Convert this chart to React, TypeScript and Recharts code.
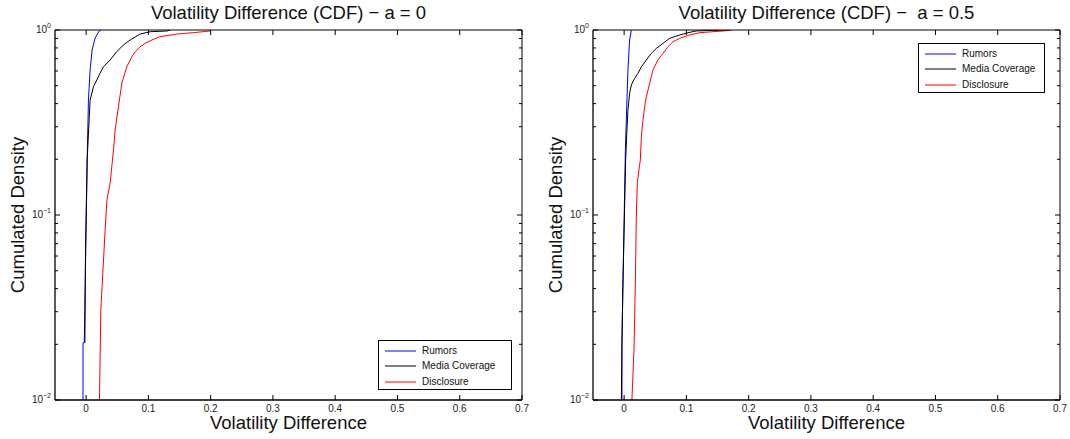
import React from 'react';
import { LineChart, Line, XAxis, YAxis, Legend } from 'recharts';

// ---------- tick values ----------
const xTicks = [0, 0.1, 0.2, 0.3, 0.4, 0.5, 0.6, 0.7];
const yMajorTicks = [0.01, 0.1, 1];
const yMinorTicks = [0.02, 0.03, 0.04, 0.05, 0.06, 0.07, 0.08, 0.09, 0.2, 0.3, 0.4, 0.5, 0.6, 0.7, 0.8, 0.9];

// ---------- series meta ----------
const seriesNames = ['Rumors', 'Media Coverage', 'Disclosure'];
const seriesColors = ['#0000ff', '#000000', '#ff0000'];

// ---------- panel titles ----------
const titles = ['Volatility Difference (CDF) \u2212 a = 0', 'Volatility Difference (CDF) \u2212  a = 0.5'];
const xLabel = 'Volatility Difference';
const yLabel = 'Cumulated Density';

// ---------- a = 0 ----------
const a0RumorsX = [-0.005, -0.005, -0.003, 0.002, 0.0037, 0.0064, 0.0096, 0.0145, 0.021, 0.024];
const a0RumorsY = [0.01, 0.0204, 0.0204, 0.224, 0.418, 0.608, 0.78, 0.905, 0.99, 1.0];

const a0MediaX = [-0.002, -0.001, 0.0016, 0.0064, 0.0118, 0.0172, 0.0225, 0.0279, 0.0386, 0.049, 0.06, 0.0707, 0.0868, 0.1029, 0.1298, 0.135];
const a0MediaY = [0.0204, 0.065, 0.198, 0.418, 0.494, 0.537, 0.586, 0.633, 0.689, 0.763, 0.83, 0.883, 0.951, 0.979, 0.988, 1.0];

const a0DisclosureX = [0.0214, 0.0236, 0.0268, 0.0305, 0.0333, 0.0386, 0.0439, 0.0466, 0.0519, 0.0574, 0.0654, 0.0735, 0.0788, 0.0868, 0.0949, 0.1056, 0.119, 0.1458, 0.172, 0.199, 0.2];
const a0DisclosureY = [0.01, 0.0306, 0.0486, 0.083, 0.12, 0.149, 0.224, 0.288, 0.385, 0.517, 0.633, 0.717, 0.763, 0.812, 0.848, 0.883, 0.92, 0.951, 0.967, 0.988, 1.0];

// ---------- a = 0.5 ----------
const a5RumorsX = [-0.0035, -0.0035, -0.002, 0.002, 0.0035, 0.0061, 0.0088, 0.0116];
const a5RumorsY = [0.01, 0.0204, 0.0408, 0.224, 0.326, 0.608, 0.883, 1.0];

const a5MediaX = [-0.0045, -0.0035, -0.002, 0.0024, 0.0045, 0.0061, 0.0088, 0.0116, 0.0169, 0.0222, 0.0277, 0.0357, 0.0437, 0.0518, 0.0624, 0.0732, 0.0892, 0.1026, 0.116, 0.137, 0.17];
const a5MediaY = [0.01, 0.0204, 0.0408, 0.198, 0.288, 0.369, 0.455, 0.505, 0.548, 0.583, 0.633, 0.689, 0.748, 0.796, 0.847, 0.902, 0.94, 0.967, 0.988, 0.994, 1.0];

const a5DisclosureX = [0.0125, 0.0158, 0.018, 0.0196, 0.0212, 0.0238, 0.026, 0.0277, 0.0302, 0.033, 0.0357, 0.041, 0.0463, 0.0543, 0.0624, 0.0704, 0.0785, 0.0892, 0.105, 0.1214, 0.1428, 0.1643, 0.172];
const a5DisclosureY = [0.01, 0.0186, 0.0429, 0.0975, 0.149, 0.175, 0.198, 0.265, 0.326, 0.385, 0.436, 0.515, 0.608, 0.689, 0.748, 0.812, 0.864, 0.902, 0.94, 0.967, 0.979, 0.991, 1.0];

const zip = (xs: number[], ys: number[]) => xs.map((x, i) => ({ x, y: ys[i] }));

const panels = [
  {
    title: titles[0],
    series: [zip(a0RumorsX, a0RumorsY), zip(a0MediaX, a0MediaY), zip(a0DisclosureX, a0DisclosureY)],
  },
  {
    title: titles[1],
    series: [zip(a5RumorsX, a5RumorsY), zip(a5MediaX, a5MediaY), zip(a5DisclosureX, a5DisclosureY)],
  },
];

const FONT = '"Liberation Sans", Arial, Helvetica, sans-serif';
const yAllTicks = [...yMajorTicks, ...yMinorTicks].sort((a, b) => a - b);
const isMajor = (v: number) => yMajorTicks.some((m) => Math.abs(m - v) < 1e-9);

const XTickBottom = (props: any) => {
  const { x, y, payload } = props;
  return (
    <g>
      <line x1={x} y1={y} x2={x} y2={y - 5} stroke="#000" strokeWidth={1} />
      <text x={x} y={y + 12} textAnchor="middle" fontSize={10} fontFamily={FONT} fill="#222">
        {String(payload.value)}
      </text>
    </g>
  );
};

const XTickTop = (props: any) => {
  const { x, y } = props;
  return <line x1={x} y1={y} x2={x} y2={y + 5} stroke="#000" strokeWidth={1} />;
};

const YTickLeft = (props: any) => {
  const { x, y, payload } = props;
  const v = payload.value as number;
  const major = isMajor(v);
  const exp = Math.round(Math.log10(v));
  return (
    <g>
      <line x1={x} y1={y} x2={x + (major ? 5 : 3)} y2={y} stroke="#000" strokeWidth={1} />
      {major && (
        <text x={x - 4} y={y + 3} textAnchor="end" fontSize={10} fontFamily={FONT} fill="#222">
          10
          <tspan dy={-5} fontSize={7}>{exp === 0 ? '0' : '\u2212' + String(-exp)}</tspan>
        </text>
      )}
    </g>
  );
};

const YTickRight = (props: any) => {
  const { x, y, payload } = props;
  const major = isMajor(payload.value as number);
  return <line x1={x} y1={y} x2={x - (major ? 5 : 3)} y2={y} stroke="#000" strokeWidth={1} />;
};

const LegendBox = (props: any) => {
  const payload = ((props.payload || []) as any[])
    .slice()
    .sort((a: any, b: any) => seriesNames.indexOf(a.value) - seriesNames.indexOf(b.value));
  return (
    <div
      style={{
        border: '1px solid #000',
        background: '#fff',
        boxSizing: 'border-box',
        width: '100%',
        height: '100%',
        padding: '2px 0 0 6px',
        fontFamily: FONT,
        fontSize: 10,
        color: '#111',
      }}
    >
      {payload.map((p: any, i: number) => (
        <div key={i} style={{ display: 'flex', alignItems: 'center', height: 15.5 }}>
          <svg width={31} height={6} style={{ display: 'block' }}>
            <line x1={0} y1={3} x2={31} y2={3} stroke={p.color} strokeWidth={1} />
          </svg>
          <span style={{ marginLeft: 6, lineHeight: '12px' }}>{p.value}</span>
        </div>
      ))}
    </div>
  );
};

function Panel(props: { idx: number; left: number; width: number; rightW: number; legend: { left: number; top: number; width: number; height: number } }) {
  const { idx, left, width, rightW, legend } = props;
  const panel = panels[idx];
  const plotLeft = 55;
  const plotRight = width - rightW;
  const cx = (plotLeft + plotRight) / 2;
  return (
    <div style={{ position: 'absolute', left, top: 0, width, height: 439 }}>
      <div
        style={{
          position: 'absolute',
          top: 2,
          left: cx - 250,
          width: 500,
          textAlign: 'center',
          fontFamily: FONT,
          fontSize: 18.5,
          whiteSpace: 'pre',
          color: '#111',
          lineHeight: '22px',
        }}
      >
        {panel.title}
      </div>
      <div
        style={{
          position: 'absolute',
          top: 412,
          left: cx - 250,
          width: 500,
          textAlign: 'center',
          fontFamily: FONT,
          fontSize: 18.5,
          color: '#111',
          lineHeight: '22px',
        }}
      >
        {xLabel}
      </div>
      <div
        style={{
          position: 'absolute',
          top: 215 - 11,
          left: 18 - 150,
          width: 300,
          height: 22,
          textAlign: 'center',
          fontFamily: FONT,
          fontSize: 18.5,
          color: '#111',
          lineHeight: '22px',
          transform: 'rotate(-90deg)',
          transformOrigin: '150px 11px',
        }}
      >
        {yLabel}
      </div>
      <div style={{ position: 'absolute', left: 0, top: 0 }}>
        <LineChart width={width} height={439} margin={{ top: 0, right: 0, bottom: 0, left: 0 }}>
          <XAxis
            xAxisId="b"
            type="number"
            dataKey="x"
            domain={[-0.05, 0.7]}
            ticks={xTicks}
            interval={0}
            allowDataOverflow
            orientation="bottom"
            height={39}
            tickSize={0}
            tickMargin={0}
            tickLine={false}
            tick={XTickBottom}
            axisLine={{ stroke: '#000', strokeWidth: 1.3 }}
          />
          <XAxis
            xAxisId="t"
            type="number"
            dataKey="x"
            domain={[-0.05, 0.7]}
            ticks={xTicks}
            interval={0}
            allowDataOverflow
            orientation="top"
            height={30}
            tickSize={0}
            tickMargin={0}
            tickLine={false}
            tick={XTickTop}
            axisLine={{ stroke: '#000', strokeWidth: 1 }}
          />
          <YAxis
            yAxisId="l"
            type="number"
            dataKey="y"
            scale="log"
            domain={[0.01, 1]}
            ticks={yAllTicks}
            interval={0}
            allowDataOverflow
            orientation="left"
            width={plotLeft}
            tickSize={0}
            tickMargin={0}
            tickLine={false}
            tick={YTickLeft}
            axisLine={{ stroke: '#000', strokeWidth: 1.3 }}
          />
          <YAxis
            yAxisId="r"
            type="number"
            dataKey="y"
            scale="log"
            domain={[0.01, 1]}
            ticks={yAllTicks}
            interval={0}
            allowDataOverflow
            orientation="right"
            width={rightW}
            tickSize={0}
            tickMargin={0}
            tickLine={false}
            tick={YTickRight}
            axisLine={{ stroke: '#000', strokeWidth: 1 }}
          />
          {panel.series.map((d, i) => (
            <Line
              key={seriesNames[i]}
              xAxisId="b"
              yAxisId="l"
              data={d}
              dataKey="y"
              name={seriesNames[i]}
              type="linear"
              stroke={seriesColors[i]}
              strokeWidth={1}
              dot={false}
              activeDot={false}
              isAnimationActive={false}
              legendType="line"
            />
          ))}
          <Legend
            layout="horizontal"
            verticalAlign="middle"
            align="center"
            content={LegendBox}
            wrapperStyle={{ left: legend.left, top: legend.top, width: legend.width, height: legend.height }}
          />
        </LineChart>
      </div>
    </div>
  );
}

export default function App() {
  return (
    <div style={{ position: 'absolute', left: 0, top: 0, width: 1070, height: 439, background: '#fff', overflow: 'hidden' }}>
      <Panel idx={0} left={0} width={540} rightW={18} legend={{ left: 378, top: 340, width: 134, height: 50 }} />
      <Panel idx={1} left={538} width={532} rightW={10} legend={{ left: 380, top: 43, width: 127, height: 50 }} />
    </div>
  );
}
